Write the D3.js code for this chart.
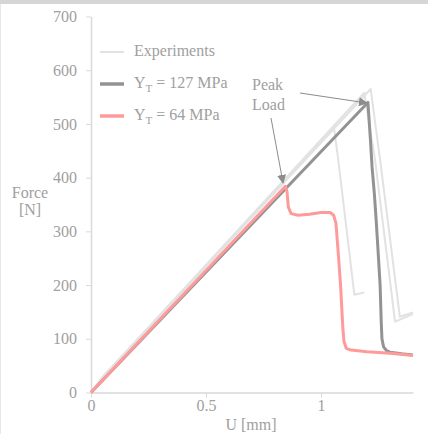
<!DOCTYPE html>
<html>
<head>
<meta charset="utf-8">
<script src="https://cdn.jsdelivr.net/npm/d3@7"></script>
<style>
  html, body { margin: 0; padding: 0; background: #fff; }
  svg { display: block; }
  text { font-family: "Liberation Serif", "Times New Roman", serif; fill: #a0a0a0; }
</style>
</head>
<body>
<svg id="chart" width="428" height="434"></svg>
<script>
// ---- data ----
const yTicks = [0, 100, 200, 300, 400, 500, 600, 700];
const xTicks = [0, 0.5, 1];
const xTickLabels = ["0", "0.5", "1"];

// experiments (three specimens) [U mm, Force N]
const exp1U = [0, 0.05, 1.057, 1.075, 1.145, 1.188];
const exp1F = [0, 29, 492, 433, 182, 186];
const exp2U = [0, 0.05, 1.188, 1.235, 1.322, 1.40];
const exp2F = [0, 28, 558, 433, 132, 146];
const exp3U = [0, 0.05, 1.216, 1.257, 1.343, 1.40];
const exp3F = [0, 27, 565, 433, 141, 149];

// model Y_T = 127 MPa
const m127U = [0, 1.204, 1.215, 1.222, 1.232, 1.240, 1.250, 1.257, 1.262, 1.265, 1.272, 1.285, 1.30, 1.35, 1.40];
const m127F = [0, 540, 470, 420, 370, 320, 250, 200, 130, 100, 85, 78, 75, 72, 70];

// model Y_T = 64 MPa
const m64U = [0, 0.845, 0.852, 0.858, 0.87, 0.90, 0.95, 1.00, 1.04, 1.055, 1.065, 1.075, 1.085, 1.095, 1.10, 1.11, 1.13, 1.20, 1.30, 1.40];
const m64F = [0, 384, 375, 345, 333, 330, 332, 335, 335, 330, 315, 260, 200, 120, 95, 82, 79, 76, 73, 69];

const legendLabels = ["Experiments", "127 MPa", "64 MPa"];

// ---- drawing ----
const svg = d3.select("#chart");
const x = d3.scaleLinear().domain([0, 1.4]).range([91, 413]);
const y = d3.scaleLinear().domain([0, 700]).range([392.5, 16.5]);

// frame decorations
svg.append("rect").attr("x", 0).attr("y", 0).attr("width", 428).attr("height", 4).attr("fill", "#d6d6d6");
svg.append("rect").attr("x", 0).attr("y", 4).attr("width", 1).attr("height", 430).attr("fill", "#e8e8e8");

const axisColor = "#d9d9d9";
const gy = svg.append("g").attr("transform", `translate(${x(0)},0)`)
  .call(d3.axisLeft(y).tickValues(yTicks).tickSize(5).tickSizeOuter(0).tickPadding(9).tickFormat(d3.format("d")));
const gx = svg.append("g").attr("transform", `translate(0,${y(0)})`)
  .call(d3.axisBottom(x).tickValues(xTicks).tickSize(5).tickSizeOuter(0).tickPadding(2).tickFormat((d, i) => xTickLabels[i]));
[gx, gy].forEach(g => {
  g.select(".domain").attr("stroke", axisColor).attr("stroke-width", 1.5);
  g.selectAll(".tick line").attr("stroke", axisColor);
  g.selectAll(".tick text").attr("fill", "#a0a0a0").style("font-size", "16px")
    .style("font-family", '"Liberation Serif", serif');
});

const line = d3.line().x(d => x(d[0])).y(d => y(d[1]));
const zip = (u, f) => u.map((v, i) => [v, f[i]]);

const expColor = "#e2e2e2", c127 = "#939393", c64 = "#ff9a9a";
[[exp1U, exp1F], [exp2U, exp2F], [exp3U, exp3F]].forEach(([u, f]) => {
  svg.append("path").attr("d", line(zip(u, f))).attr("fill", "none")
    .attr("stroke", expColor).attr("stroke-width", 2).attr("stroke-linejoin", "round");
});
svg.append("path").attr("d", line(zip(m127U, m127F))).attr("fill", "none")
  .attr("stroke", c127).attr("stroke-width", 3).attr("stroke-linejoin", "round");
svg.append("path").attr("d", line(zip(m64U, m64F))).attr("fill", "none")
  .attr("stroke", c64).attr("stroke-width", 3).attr("stroke-linejoin", "round");

// legend
const lg = svg.append("g");
const legendItems = [
  {label: legendLabels[0], color: expColor, w: 2, y: 52, sub: false},
  {label: legendLabels[1], color: c127, w: 3.5, y: 84, sub: true},
  {label: legendLabels[2], color: c64, w: 3.5, y: 116, sub: true}
];
legendItems.forEach(it => {
  lg.append("line").attr("x1", 100).attr("x2", 124).attr("y1", it.y).attr("y2", it.y)
    .attr("stroke", it.color).attr("stroke-width", it.w);
  const t = lg.append("text").attr("x", 134).attr("y", it.y + 4).style("font-size", "16px");
  if (it.sub) {
    t.append("tspan").text("Y");
    t.append("tspan").attr("dy", 4).style("font-size", "11px").text("T");
    t.append("tspan").attr("dy", -4).text(" = " + it.label);
  } else {
    t.text(it.label);
  }
});

// axis titles
svg.append("text").attr("x", 30).attr("y", 198).attr("text-anchor", "middle").style("font-size", "16px").text("Force");
svg.append("text").attr("x", 30).attr("y", 215).attr("text-anchor", "middle").style("font-size", "16px").text("[N]");
svg.append("text").attr("x", 251).attr("y", 430).attr("text-anchor", "middle").style("font-size", "16px").text("U [mm]");

// annotation
svg.append("defs").append("marker").attr("id", "arr").attr("viewBox", "0 0 10 10")
  .attr("refX", 9).attr("refY", 5).attr("markerWidth", 9).attr("markerHeight", 9)
  .attr("markerUnits", "userSpaceOnUse").attr("orient", "auto")
  .append("path").attr("d", "M0,0 L10,5 L0,10 Z").attr("fill", "#8c8c8c");
svg.append("text").attr("x", 252).attr("y", 90).style("font-size", "16px").text("Peak");
svg.append("text").attr("x", 252).attr("y", 110).style("font-size", "16px").text("Load");
svg.append("line").attr("x1", 300).attr("y1", 93).attr("x2", x(1.2)).attr("y2", 103)
  .attr("stroke", "#8c8c8c").attr("stroke-width", 1).attr("marker-end", "url(#arr)");
svg.append("line").attr("x1", 271).attr("y1", 118).attr("x2", x(0.835)).attr("y2", 183)
  .attr("stroke", "#8c8c8c").attr("stroke-width", 1).attr("marker-end", "url(#arr)");
</script>
</body>
</html>
